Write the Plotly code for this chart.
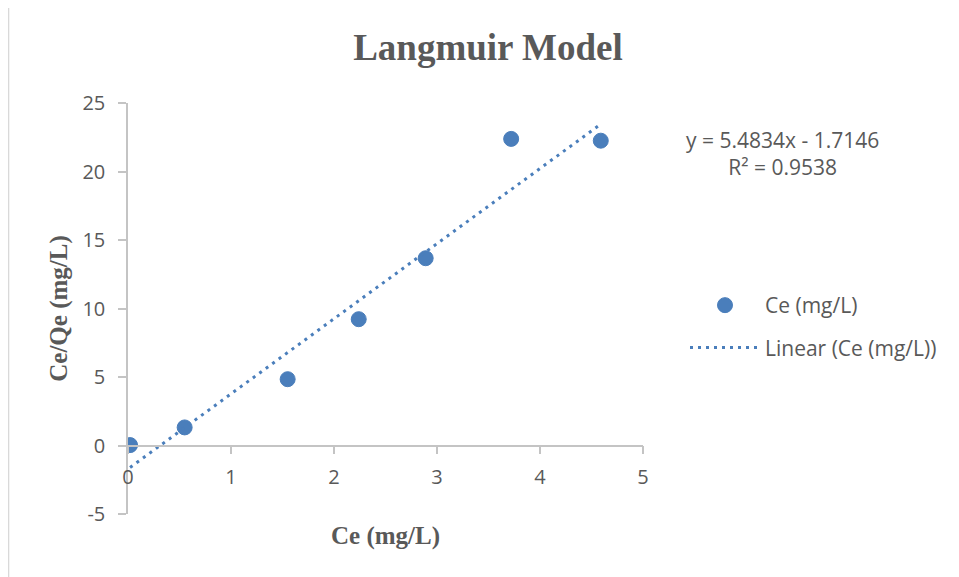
import plotly.graph_objects as go

# ---- data ----
ce = [0.02, 0.55, 1.55, 2.24, 2.89, 3.72, 4.59]
ce_qe = [0.03, 1.32, 4.84, 9.22, 13.67, 22.38, 22.25]

slope = 5.4834
intercept = -1.7146
r_squared = 0.9538

x_ticks = [0, 1, 2, 3, 4, 5]
y_ticks = [-5, 0, 5, 10, 15, 20, 25]
y_tick_text = ["-5", "0", "5", "10", "15", "20", "25"]

series_name = "Ce (mg/L)"
trend_name = "Linear (Ce (mg/L))"

trend_x = [min(ce), max(ce)]
trend_y = [slope * v + intercept for v in trend_x]

blue = "#4a7ebb"
grey_txt = "#595959"
axis_col = "#c4c4c4"
sans = "Open Sans, Liberation Sans, sans-serif"
tick_font = dict(family=sans, size=20, color=grey_txt)
serif_bold = "Liberation Serif, Times New Roman, serif"

fig = go.Figure()
fig.add_trace(go.Scatter(
    x=ce, y=ce_qe, mode="markers", name=series_name, legendgroup="a",
    marker=dict(size=15, color=blue, line=dict(width=1, color=blue)),
))
fig.add_trace(go.Scatter(
    x=trend_x, y=trend_y, mode="lines", name=trend_name, legendgroup="b",
    line=dict(color=blue, width=3, dash="3px,5px"),
))

# page body has an 8px margin, so figure coords = screen coords - 8
fig.update_layout(
    width=959, height=577,
    margin=dict(l=120, r=324, t=95, b=71),
    paper_bgcolor="white", plot_bgcolor="white",
    showlegend=True,
    title=dict(
        text="<b>Langmuir Model</b>",
        font=dict(family=serif_bold, size=37, color=grey_txt),
        x=(488 - 8) / 959, xanchor="center", xref="container",
        y=1 - (47 - 8) / 577, yanchor="middle", yref="container",
    ),
    xaxis=dict(
        range=[0, 5], tickvals=x_ticks, anchor="free", position=5 / 30,
        showline=True, linecolor=axis_col, linewidth=1.5,
        ticks="outside", ticklen=8, tickcolor=axis_col, tickwidth=1.5,
        tickfont=tick_font, ticklabelstandoff=6,
        showgrid=False, zeroline=False,
        title=dict(text="<b>Ce (mg/L)</b>", font=dict(family=serif_bold, size=25, color=grey_txt), standoff=36),
    ),
    yaxis=dict(
        range=[-5, 25], tickvals=y_ticks, ticktext=y_tick_text,
        showline=True, linecolor=axis_col, linewidth=1.5,
        ticks="outside", ticklen=8, tickcolor=axis_col, tickwidth=1.5,
        tickfont=tick_font, ticklabelstandoff=9,
        showgrid=False, zeroline=False,
        title=dict(text="<b>Ce/Qe (mg/L)</b>", font=dict(family=serif_bold, size=25, color=grey_txt), standoff=8),
    ),
    legend=dict(
        x=(685 - 128) / 515, xanchor="left",
        y=(514 - 285) / 411, yanchor="top",
        font=dict(family=sans, size=21, color=grey_txt),
        itemwidth=70, tracegroupgap=12, bgcolor="rgba(0,0,0,0)",
    ),
    annotations=[dict(
        text=f"y = {slope}x - {abs(intercept)}<br>R² = {r_squared}",
        x=(782 - 128) / 515, y=(514 - 153) / 411, xref="paper", yref="paper",
        xanchor="center", yanchor="middle", align="center", showarrow=False,
        font=dict(family=sans, size=21, color=grey_txt),
    )],
    shapes=[dict(
        type="rect", xref="paper", yref="paper",
        x0=(8.3 - 128) / 515, x1=2.0, y0=-1.0, y1=(514 - 6) / 411,
        line=dict(color="#d9d9d9", width=2), fillcolor="rgba(0,0,0,0)", layer="below",
    )],
)

fig.write_html("out.html")
